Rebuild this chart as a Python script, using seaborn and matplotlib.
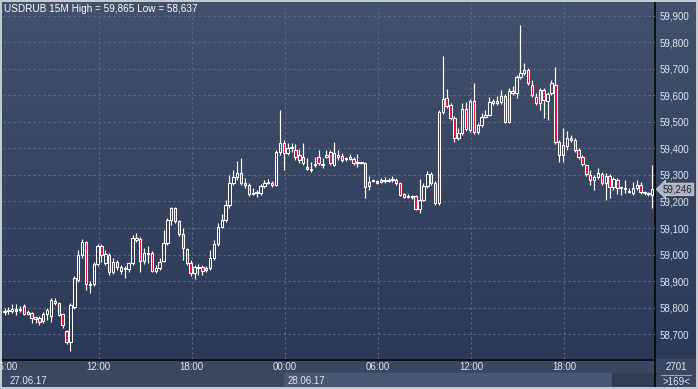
import numpy as np
import pandas as pd
import matplotlib
matplotlib.use("Agg")
import matplotlib.pyplot as plt
import matplotlib.transforms as mtransforms
import seaborn as sns
from matplotlib.colors import LinearSegmentedColormap
from matplotlib.patches import Rectangle

# ---------------- data (USDRUB, 15-minute candles from 27.06.17 06:00) ----------------
opens = [
    58.783, 58.787, 58.787, 58.790, 58.790, 58.806, 58.775, 58.779, 58.760, 58.760,
    58.749, 58.775, 58.768, 58.825, 58.817, 58.775, 58.711, 58.669, 58.802, 58.903,
    58.998, 59.047, 58.888, 58.888, 58.964, 59.032, 58.968, 58.998, 58.934, 58.971,
    58.952, 58.945, 58.945, 58.968, 59.062, 59.058, 58.975, 59.005, 59.005, 58.937,
    58.949, 58.975, 59.043, 59.130, 59.175, 59.126, 59.077, 59.021, 58.968, 58.930,
    58.952, 58.952, 58.941, 58.949, 58.986, 59.039, 59.104, 59.130, 59.187, 59.269,
    59.292, 59.307, 59.269, 59.262, 59.228, 59.232, 59.232, 59.258, 59.269, 59.269,
    59.262, 59.387, 59.421, 59.383, 59.402, 59.394, 59.375, 59.368, 59.326, 59.319,
    59.338, 59.368, 59.338, 59.368, 59.387, 59.338, 59.375, 59.371, 59.360, 59.360,
    59.360, 59.345, 59.345, 59.345, 59.258, 59.277, 59.273, 59.273, 59.277, 59.277,
    59.281, 59.281, 59.269, 59.228, 59.220, 59.217, 59.220, 59.171, 59.205, 59.258,
    59.303, 59.269, 59.194, 59.538, 59.591, 59.564, 59.515, 59.440, 59.458, 59.549,
    59.470, 59.579, 59.462, 59.489, 59.519, 59.526, 59.579, 59.572, 59.575, 59.598,
    59.500, 59.617, 59.609, 59.670, 59.685, 59.696, 59.640, 59.594, 59.572, 59.621,
    59.579, 59.609, 59.640, 59.425, 59.375, 59.410, 59.432, 59.432, 59.394, 59.368,
    59.338, 59.300, 59.281, 59.292, 59.303, 59.269, 59.296, 59.254, 59.281, 59.251,
    59.247, 59.239, 59.232, 59.251, 59.262, 59.232, 59.228, 59.224]
highs = [
    58.798, 58.802, 58.813, 58.813, 58.806, 58.813, 58.790, 58.783, 58.768, 58.768,
    58.783, 58.798, 58.836, 58.836, 58.821, 58.779, 58.715, 58.817, 58.919, 59.017,
    59.058, 59.051, 58.900, 58.971, 59.039, 59.039, 59.017, 59.005, 58.986, 58.979,
    58.960, 58.956, 58.971, 59.074, 59.081, 59.066, 59.024, 59.032, 59.013, 58.960,
    58.986, 59.092, 59.138, 59.179, 59.179, 59.130, 59.100, 59.024, 58.979, 58.960,
    58.964, 58.960, 58.956, 59.017, 59.055, 59.119, 59.153, 59.205, 59.300, 59.319,
    59.353, 59.364, 59.288, 59.269, 59.251, 59.243, 59.266, 59.281, 59.285, 59.277,
    59.394, 59.545, 59.432, 59.421, 59.421, 59.417, 59.398, 59.421, 59.364, 59.349,
    59.368, 59.394, 59.364, 59.394, 59.394, 59.425, 59.394, 59.383, 59.368, 59.379,
    59.368, 59.379, 59.349, 59.349, 59.296, 59.285, 59.281, 59.288, 59.292, 59.288,
    59.296, 59.288, 59.273, 59.232, 59.228, 59.224, 59.224, 59.285, 59.269, 59.315,
    59.311, 59.277, 59.545, 59.749, 59.624, 59.572, 59.523, 59.477, 59.572, 59.575,
    59.587, 59.647, 59.496, 59.534, 59.545, 59.594, 59.587, 59.598, 59.621, 59.606,
    59.628, 59.636, 59.677, 59.865, 59.723, 59.704, 59.658, 59.609, 59.628, 59.628,
    59.613, 59.658, 59.708, 59.432, 59.477, 59.466, 59.451, 59.440, 59.402, 59.375,
    59.341, 59.319, 59.300, 59.326, 59.311, 59.307, 59.303, 59.292, 59.288, 59.258,
    59.281, 59.251, 59.273, 59.281, 59.273, 59.239, 59.236, 59.338]
lows = [
    58.771, 58.775, 58.779, 58.771, 58.783, 58.771, 58.771, 58.741, 58.741, 58.734,
    58.741, 58.752, 58.745, 58.809, 58.768, 58.722, 58.662, 58.637, 58.794, 58.896,
    58.986, 58.866, 58.855, 58.881, 58.956, 58.971, 58.960, 58.922, 58.926, 58.941,
    58.926, 58.911, 58.934, 58.960, 59.047, 58.934, 58.964, 58.968, 58.934, 58.930,
    58.941, 58.971, 59.036, 59.111, 59.119, 59.070, 58.979, 58.960, 58.919, 58.907,
    58.922, 58.922, 58.934, 58.941, 58.979, 59.032, 59.100, 59.123, 59.175, 59.262,
    59.281, 59.262, 59.251, 59.220, 59.224, 59.217, 59.224, 59.251, 59.266, 59.254,
    59.258, 59.375, 59.319, 59.375, 59.387, 59.356, 59.345, 59.338, 59.319, 59.311,
    59.330, 59.338, 59.326, 59.364, 59.338, 59.334, 59.356, 59.349, 59.353, 59.356,
    59.338, 59.330, 59.341, 59.213, 59.243, 59.273, 59.266, 59.269, 59.269, 59.273,
    59.273, 59.262, 59.220, 59.213, 59.213, 59.209, 59.168, 59.157, 59.202, 59.251,
    59.262, 59.187, 59.187, 59.530, 59.553, 59.507, 59.425, 59.432, 59.451, 59.466,
    59.462, 59.455, 59.455, 59.481, 59.515, 59.523, 59.564, 59.564, 59.568, 59.496,
    59.496, 59.602, 59.591, 59.662, 59.677, 59.640, 59.594, 59.564, 59.545, 59.515,
    59.507, 59.602, 59.417, 59.349, 59.349, 59.394, 59.425, 59.387, 59.360, 59.334,
    59.296, 59.262, 59.243, 59.285, 59.262, 59.205, 59.213, 59.243, 59.228, 59.224,
    59.232, 59.232, 59.224, 59.243, 59.228, 59.224, 59.220, 59.175]
closes = [
    58.787, 58.790, 58.794, 58.791, 58.794, 58.775, 58.783, 58.760, 58.761, 58.745,
    58.775, 58.790, 58.828, 58.817, 58.771, 58.734, 58.669, 58.809, 58.911, 58.998,
    59.047, 58.888, 58.889, 58.964, 59.032, 58.998, 59.002, 58.934, 58.971, 58.952,
    58.937, 58.946, 58.968, 59.062, 59.055, 58.975, 59.005, 59.006, 58.937, 58.949,
    58.971, 59.043, 59.130, 59.175, 59.126, 59.077, 59.024, 58.968, 58.930, 58.952,
    58.953, 58.937, 58.949, 58.986, 59.039, 59.104, 59.130, 59.187, 59.269, 59.292,
    59.307, 59.269, 59.262, 59.228, 59.232, 59.233, 59.258, 59.269, 59.273, 59.262,
    59.387, 59.421, 59.383, 59.402, 59.403, 59.368, 59.356, 59.345, 59.327, 59.320,
    59.339, 59.345, 59.339, 59.375, 59.345, 59.383, 59.368, 59.356, 59.361, 59.368,
    59.345, 59.346, 59.346, 59.254, 59.273, 59.278, 59.274, 59.281, 59.278, 59.278,
    59.282, 59.269, 59.224, 59.217, 59.221, 59.218, 59.171, 59.205, 59.258, 59.303,
    59.269, 59.194, 59.538, 59.587, 59.560, 59.515, 59.440, 59.458, 59.549, 59.473,
    59.579, 59.462, 59.489, 59.519, 59.526, 59.575, 59.572, 59.579, 59.598, 59.500,
    59.617, 59.609, 59.670, 59.685, 59.696, 59.647, 59.602, 59.572, 59.621, 59.583,
    59.606, 59.647, 59.425, 59.375, 59.413, 59.440, 59.440, 59.394, 59.368, 59.341,
    59.303, 59.281, 59.292, 59.307, 59.269, 59.296, 59.254, 59.285, 59.251, 59.252,
    59.248, 59.240, 59.251, 59.262, 59.236, 59.233, 59.229, 59.246]

time_labels = ["06:00", "12:00", "18:00", "00:00", "06:00", "12:00", "18:00"]
date_labels = ["27.06.17", "28.06.17"]
price_ticks = [58.7, 58.8, 58.9, 59.0, 59.1, 59.2, 59.3, 59.4, 59.5, 59.6, 59.7, 59.8, 59.9]
title = "USDRUB 15M High = 59,865 Low = 58,637"
last_price = 59.246
bars_total = "2701"
bars_visible = ">169<"

# ---------------- frame ----------------
df = pd.DataFrame({"bar": np.arange(len(opens)), "open": opens, "high": highs,
                   "low": lows, "close": closes})
df["up"] = df["close"] >= df["open"]
df["top"] = df[["open", "close"]].max(axis=1)
df["bot"] = df[["open", "close"]].min(axis=1)
raw_h = df["top"] - df["bot"]
df["body_h"] = raw_h.clip(lower=0.004)
df["body_lo"] = df["bot"] - (df["body_h"] - raw_h) / 2

sns.set_theme(style="dark")
plt.rcParams["font.family"] = ["Liberation Sans", "DejaVu Sans"]

W, H = 698, 389
fig = plt.figure(figsize=(W / 100, H / 100), dpi=100)
fig.patch.set_facecolor("#c5c9d1")


def px_axes(x0, y0, x1, y1):
    return fig.add_axes([x0 / W, 1 - y1 / H, (x1 - x0) / W, (y1 - y0) / H])


# background panel
bg = px_axes(2, 2, 696, 387)
cmap = LinearSegmentedColormap.from_list("bg", ["#43516c", "#2b3957"])
grad = np.linspace(0, 1, 256).reshape(-1, 1)
bg.imshow(grad, cmap=cmap, extent=(2, 696, 359, 2), aspect="auto", origin="upper", zorder=0)
bg.add_patch(Rectangle((2, 359), 694, 28, color="#3b4761", zorder=1))
bg.add_patch(Rectangle((284, 373), 328, 14, color="#4a5773", zorder=2))
bg.add_patch(Rectangle((612, 373), 43.5, 14, color="#313c55", zorder=2))
bg.plot([2, 655.5], [359.5, 359.5], color="black", lw=1.1, zorder=5)
bg.plot([655.5, 655.5], [2, 387], color="black", lw=1.1, zorder=5)
bg.plot([661, 691], [374.5, 374.5], color="#9aa4b8", lw=0.8, zorder=5)
bg.text(676, 367.5, bars_total, color="#dfe6f4", fontsize=7, ha="center", va="center", zorder=6)
bg.text(676, 382, bars_visible, color="#dfe6f4", fontsize=7, ha="center", va="center", zorder=6)
bg.text(10, 381, date_labels[0], color="#dfe6f4", fontsize=7, ha="left", va="center", zorder=6)
bg.text(288, 381, date_labels[1], color="#dfe6f4", fontsize=7, ha="left", va="center", zorder=6)
bg.text(4, 8.5, title, color="white", fontsize=7.2, ha="left", va="center", zorder=6)
bg.set_xlim(2, 696)
bg.set_ylim(387, 2)
bg.axis("off")

# main chart axes
ax = px_axes(3, 3, 655, 359)
ax.patch.set_alpha(0)
ax.set_xlim(-0.387, 167.7)
ax.set_ylim(58.6057, 59.949)
for s in ax.spines.values():
    s.set_visible(False)

grid_kw = dict(color="#5d6c8a", lw=0.8, linestyle=(0, (2, 2.5)), zorder=1)
for p in price_ticks:
    ax.axhline(p, **grid_kw)
tick_pos = [24 * k + 0.3 for k in range(len(time_labels))]
for xp in tick_pos[1:]:
    ax.axvline(xp, **grid_kw)

ax.yaxis.tick_right()
ax.set_yticks(price_ticks)
ax.set_yticklabels([f"{p:.3f}".replace(".", ",") for p in price_ticks])
ax.set_xticks(tick_pos)
ax.set_xticklabels(time_labels)
ax.tick_params(axis="both", length=0, labelsize=7, labelcolor="#dfe6f4")
ax.tick_params(axis="y", pad=3)
ax.tick_params(axis="x", pad=2.5)
ax.set_xlabel("")
ax.set_ylabel("")

# candles: wicks above and below the body, hollow white up bodies, red down bodies
ax.vlines(df["bar"], df["top"], df["high"], color="white", lw=0.85, zorder=3)
ax.vlines(df["bar"], df["low"], df["bot"], color="white", lw=0.85, zorder=3)
face = np.where(df["up"], "none", "#e0143c")
ax.bar(df["bar"], df["body_h"], bottom=df["body_lo"], width=0.62, color=face,
       edgecolor="white", linewidth=0.75, zorder=4)

# last price tag
trans = mtransforms.blended_transform_factory(ax.transAxes, ax.transData)
ax.text(1.012, last_price, f"{last_price:.3f}".replace(".", ","), transform=trans,
        fontsize=7, color="#1b2438", ha="left", va="center", zorder=7, clip_on=False,
        bbox=dict(boxstyle="larrow,pad=0.12", fc="#aeb3bd", ec="#d0d4dc", lw=0.6))

fig.savefig("out.png", dpi=100, facecolor=fig.get_facecolor())
